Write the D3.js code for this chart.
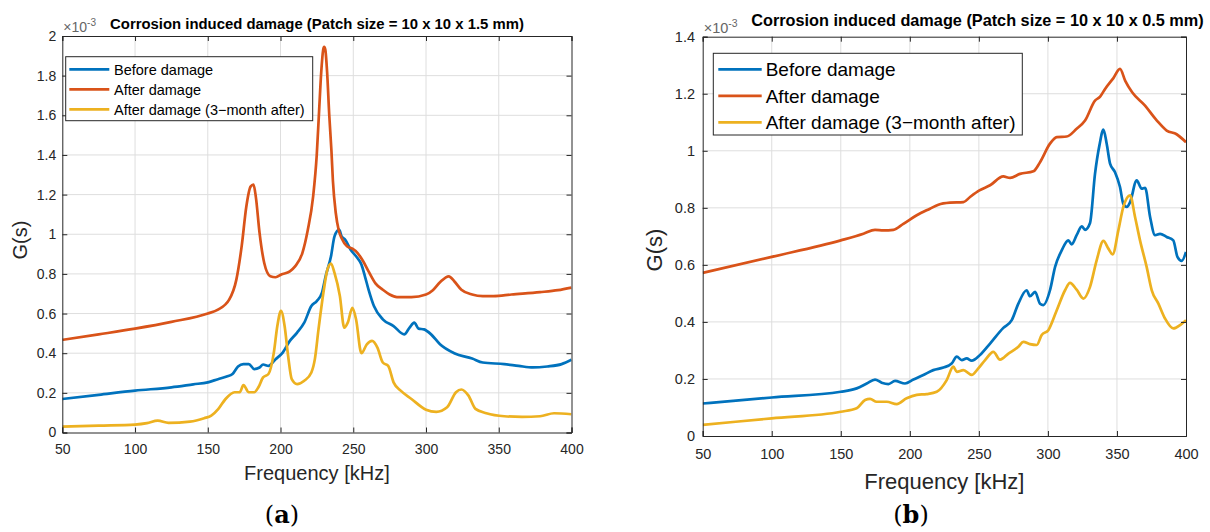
<!DOCTYPE html>
<html><head><meta charset="utf-8">
<script src="https://cdn.jsdelivr.net/npm/d3@7"></script>
<style>body{margin:0;background:#fff}svg{display:block;font-family:"Liberation Sans",Arial,sans-serif}</style>
</head><body><svg id="c" width="1210" height="532"></svg>
<script>
// ---------- DATA (G(s) in units of 1e-3) ----------
const xTicks = [50,100,150,200,250,300,350,400];
const yTicksA = [0,0.2,0.4,0.6,0.8,1,1.2,1.4,1.6,1.8,2];
const yTicksB = [0,0.2,0.4,0.6,0.8,1,1.2,1.4];
const seriesNames = ["Before damage","After damage","After damage (3\u2212month after)"];
const seriesColors = ["#0072BD","#D95319","#EDB120"];
const titleA = "Corrosion induced damage (Patch size = 10 x 10 x 1.5 mm)";
const titleB = "Corrosion induced damage (Patch size = 10 x 10 x 0.5 mm)";

// Panel (a)
const aBeforeF = [50,75,100,125,140,150,157,163,167,170.8,174.5,178.2,181.9,185.6,188,191.7,196.6,201.5,206.4,211.4,216.3,221.2,224.9,228.5,231,234.7,237.1,240.3,242,244.5,248.2,251.9,255.6,258,260.5,264.2,270.3,277.7,285,288.7,291.9,294.9,298.6,303.5,309.6,319.4,331.7,339,353.8,363.6,373.5,383.3,393.2,400];
const aBeforeG = [0.169,0.19,0.211,0.228,0.243,0.253,0.269,0.282,0.295,0.333,0.345,0.345,0.32,0.328,0.343,0.336,0.37,0.403,0.462,0.504,0.554,0.638,0.663,0.705,0.788,0.889,0.989,1.023,0.989,0.972,0.922,0.889,0.847,0.788,0.721,0.638,0.571,0.537,0.495,0.529,0.554,0.524,0.52,0.495,0.445,0.4,0.373,0.353,0.345,0.336,0.328,0.333,0.345,0.367];
const aAfterF = [50,75,100,125,150,157,164.7,169.6,173.3,176.5,179.4,181.4,183,185.6,188.8,193,196.6,200.5,206.4,210,215,218.7,222.4,224.9,226.5,228,229.3,230,230.8,232,233.5,235,236,238,240,242,245.7,249.4,253,256.8,260.5,265.4,270.3,275,280,290,300,304.7,309.6,315.7,319.4,324.3,331.7,339,346.4,358.7,378.4,390.7,400];
const aAfterG = [0.467,0.495,0.524,0.558,0.60,0.62,0.67,0.77,0.94,1.14,1.24,1.25,1.19,1.006,0.855,0.788,0.783,0.797,0.813,0.838,0.905,1.02,1.19,1.40,1.62,1.82,1.93,1.945,1.93,1.82,1.6,1.42,1.27,1.106,1.02,0.98,0.939,0.927,0.905,0.864,0.813,0.751,0.72,0.696,0.683,0.683,0.696,0.718,0.758,0.788,0.763,0.72,0.696,0.688,0.688,0.696,0.708,0.718,0.731];
const a3mF = [50,75,100,108.2,115.6,123,137.7,147.5,152.4,157.3,162.2,168.4,172,174.5,178.2,181.9,184.8,188,191.7,195.4,197.8,200.3,202.8,205.2,207.7,211.4,216.3,221.2,223.6,226.1,229.8,232.2,234.7,237.1,240.8,243.8,246.2,249.4,251.9,255.6,259.3,262.9,266.6,270.3,274,277.7,282.6,290,300,307.1,314.5,320.6,324.3,329.2,334,341.5,353.8,366,378.4,388,400];
const a3mG = [0.03,0.035,0.04,0.047,0.06,0.049,0.055,0.072,0.085,0.119,0.169,0.203,0.203,0.239,0.203,0.203,0.228,0.278,0.295,0.403,0.537,0.613,0.537,0.387,0.269,0.244,0.261,0.303,0.37,0.52,0.721,0.822,0.852,0.805,0.688,0.529,0.554,0.629,0.571,0.4,0.445,0.462,0.428,0.353,0.336,0.253,0.211,0.169,0.115,0.104,0.127,0.203,0.217,0.186,0.119,0.097,0.082,0.079,0.082,0.097,0.092];

// Panel (b)
const bBeforeF = [50,100,150,161.5,168.8,174.8,179.6,184.5,189.3,196.5,202.6,209.8,217,224.3,230.3,234,237.6,241.2,244.8,250.8,258.1,267.7,273.8,278.6,284.6,287,290.7,294.3,296.7,301.5,305.2,310,314.8,317.2,320.8,324.5,326.9,330.5,334.1,337.3,340.2,342.6,345,348.6,352.2,354.6,357.1,359.5,364.3,367.9,370.4,374,377.6,381.2,386,390.8,393.8,396.9,400];
const bBeforeG = [0.114,0.135,0.155,0.167,0.184,0.198,0.187,0.182,0.193,0.184,0.198,0.214,0.231,0.24,0.254,0.278,0.266,0.272,0.264,0.284,0.324,0.379,0.406,0.464,0.511,0.49,0.505,0.464,0.459,0.511,0.593,0.651,0.686,0.672,0.704,0.735,0.723,0.747,0.919,1.019,1.074,1.024,0.955,0.925,0.873,0.814,0.803,0.82,0.896,0.867,0.87,0.768,0.704,0.709,0.698,0.686,0.628,0.614,0.645];
const bAfterF = [50,100,150,166.4,174.8,180.8,188.1,195.3,205,214.6,220.7,229.1,238.8,243.6,250.4,258.1,267.7,272.6,279.8,289.5,294.3,301.5,306.4,313.6,320.8,326.9,334.1,337.8,341.4,347.3,352.2,356,361,370,378.9,386,393.2,400];
const bAfterG = [0.572,0.628,0.686,0.709,0.723,0.721,0.723,0.744,0.774,0.797,0.811,0.818,0.82,0.838,0.861,0.879,0.91,0.905,0.919,0.928,0.96,1.025,1.048,1.05,1.077,1.106,1.176,1.19,1.217,1.254,1.287,1.245,1.205,1.16,1.106,1.071,1.058,1.03];
const b3mF = [50,100,150,161.5,167.6,171.2,176,183.3,190.5,197.7,205,212.2,219.5,226.7,231.5,234,238.8,244.8,249.6,254.5,260.5,265.3,271.4,278.6,282.2,287,291.9,295.5,300.3,306.4,312.4,316,320.8,325.7,330.5,335.3,340.2,343.8,346.9,351,354.6,359.5,363.1,366.7,371.5,375.2,380,384.8,390.8,395.7,400];
const b3mG = [0.039,0.062,0.085,0.097,0.126,0.13,0.12,0.12,0.112,0.132,0.144,0.147,0.155,0.196,0.243,0.225,0.231,0.214,0.237,0.266,0.295,0.268,0.289,0.313,0.33,0.322,0.319,0.354,0.371,0.441,0.511,0.537,0.513,0.482,0.523,0.616,0.684,0.657,0.637,0.721,0.803,0.844,0.768,0.686,0.593,0.511,0.464,0.412,0.377,0.389,0.406];

// ---------- DRAW ----------
const svg = d3.select("#c");
const AX = "#262626", GRID = "#dedede";
const SANS = "'Liberation Sans',Arial,sans-serif";

function zip(f, g){ return f.map((x,i)=>[x,g[i]]); }

function panel(o){
  const x = d3.scaleLinear().domain([50,400]).range([o.left,o.right]);
  const y = d3.scaleLinear().domain([0,o.ymax]).range([o.bottom,o.top]);
  const g = svg.append("g");
  const clipId = "clip"+o.id;
  svg.append("clipPath").attr("id",clipId).append("rect")
    .attr("x",o.left).attr("y",o.top).attr("width",o.right-o.left).attr("height",o.bottom-o.top);
  // grid
  g.append("g").selectAll("line").data(xTicks.slice(1,-1)).join("line")
    .attr("x1",d=>x(d)).attr("x2",d=>x(d)).attr("y1",o.top).attr("y2",o.bottom)
    .attr("stroke",GRID).attr("stroke-width",1);
  g.append("g").selectAll("line").data(o.yTicks.slice(1,-1)).join("line")
    .attr("y1",d=>y(d)).attr("y2",d=>y(d)).attr("x1",o.left).attr("x2",o.right)
    .attr("stroke",GRID).attr("stroke-width",1);
  // lines
  const line = d3.line().x(d=>x(d[0])).y(d=>y(d[1])).curve(d3.curveMonotoneX);
  const lg = g.append("g").attr("clip-path",`url(#${clipId})`);
  o.series.forEach((s,i)=>{
    lg.append("path").attr("d",line(s)).attr("fill","none")
      .attr("stroke",seriesColors[i]).attr("stroke-width",2.7).attr("stroke-linejoin","round");
  });
  // axes
  const fmt = d=>String(+d.toFixed(1));
  const ax = [
    d3.axisBottom(x).tickValues(xTicks).tickSize(-5).tickPadding(o.xPad).tickFormat(d3.format("d")),
    d3.axisTop(x).tickValues(xTicks).tickSize(-5).tickFormat(""),
    d3.axisLeft(y).tickValues(o.yTicks).tickSize(-5).tickPadding(o.yPad).tickFormat(fmt),
    d3.axisRight(y).tickValues(o.yTicks).tickSize(-5).tickFormat("")
  ];
  const pos = [`translate(0,${o.bottom})`,`translate(0,${o.top})`,`translate(${o.left},0)`,`translate(${o.right},0)`];
  ax.forEach((a,i)=>{
    const ag = g.append("g").attr("transform",pos[i]).call(a);
    ag.select(".domain").attr("stroke",AX).attr("stroke-width",1);
    ag.selectAll(".tick line").attr("stroke",AX).attr("stroke-width",1);
    ag.selectAll(".tick text").attr("fill",AX).attr("font-size",o.tickFs).attr("font-family",SANS);
  });
  // exponent label
  const ex = g.append("text").attr("x",o.left+1).attr("y",o.top-4).attr("fill","#666")
    .attr("font-size",o.expFs).attr("font-family",SANS);
  ex.append("tspan").text("\u00d710");
  ex.append("tspan").attr("dy",-o.expFs*0.4).attr("font-size",o.expFs*0.72).text("-3");
  // title
  const t = g.append("text").attr("x",o.titleX).attr("y",o.titleY).attr("text-anchor","middle")
    .attr("font-family",SANS).attr("font-weight","bold").attr("font-size",o.titleFs).attr("fill","#000").text(o.title);
  const len = t.node().getComputedTextLength();
  t.attr("font-size",o.titleFs*o.titleW/len);
  // axis labels
  g.append("text").attr("x",(o.left+o.right)/2).attr("y",o.xlabY).attr("text-anchor","middle")
    .attr("font-family",SANS).attr("font-size",o.labFs).attr("fill",AX).text("Frequency [kHz]");
  g.append("text").attr("transform",`translate(${o.ylabX},${o.ylabY}) rotate(-90)`)
    .attr("font-family",SANS).attr("text-anchor","middle").attr("font-size",o.labFs).attr("fill",AX).text("G(s)");
  // legend
  const L = o.leg;
  g.append("rect").attr("x",L.x).attr("y",L.y).attr("width",L.w).attr("height",L.h)
    .attr("fill","#fff").attr("stroke",AX).attr("stroke-width",1);
  seriesNames.forEach((nm,i)=>{
    const cy = L.y + L.row0 + i*L.dy;
    g.append("line").attr("x1",L.x+L.l0).attr("x2",L.x+L.l1).attr("y1",cy).attr("y2",cy)
      .attr("stroke",seriesColors[i]).attr("stroke-width",2.7);
    g.append("text").attr("x",L.x+L.tx).attr("y",cy).attr("dy","0.36em")
      .attr("font-family",SANS).attr("font-size",L.fs).attr("fill","#000").text(nm);
  });
  // sub-label
  const sl = g.append("text").attr("x",o.subX).attr("y",o.subY).attr("text-anchor","middle")
    .style("font-family","'DejaVu Serif','Liberation Serif',serif").attr("font-size",o.subFs).attr("fill","#000");
  sl.append("tspan").text("(");
  sl.append("tspan").attr("font-weight","bold").text(o.sub);
  sl.append("tspan").text(")");
}

panel({id:"A",left:62.3,right:571.5,top:36,bottom:432.5,ymax:2,yTicks:yTicksA,
  series:[zip(aBeforeF,aBeforeG),zip(aAfterF,aAfterG),zip(a3mF,a3mG)],
  xPad:12,yPad:6,tickFs:14,expFs:14,title:titleA,titleX:317,titleY:29.3,titleFs:14,titleW:414,
  xlabY:480,labFs:20,ylabX:27,ylabY:240,
  leg:{x:65.7,y:56.7,w:247,h:64,row0:12.6,dy:20,l0:3.6,l1:43.6,tx:48.3,fs:14.5},
  sub:"a",subX:282,subY:523,subFs:24});

panel({id:"B",left:702.7,right:1186,top:36.7,bottom:436,ymax:1.4,yTicks:yTicksB,
  series:[zip(bBeforeF,bBeforeG),zip(bAfterF,bAfterG),zip(b3mF,b3mG)],
  xPad:13,yPad:7.7,tickFs:14.5,expFs:14.5,title:titleB,titleX:977.5,titleY:26,titleFs:15,titleW:453,
  xlabY:489,labFs:22,ylabX:662,ylabY:250,
  leg:{x:713.3,y:53.3,w:309,h:81.7,row0:16,dy:26.5,l0:5,l1:48.4,tx:52.4,fs:19},
  sub:"b",subX:911,subY:523,subFs:24});
</script></body></html>
